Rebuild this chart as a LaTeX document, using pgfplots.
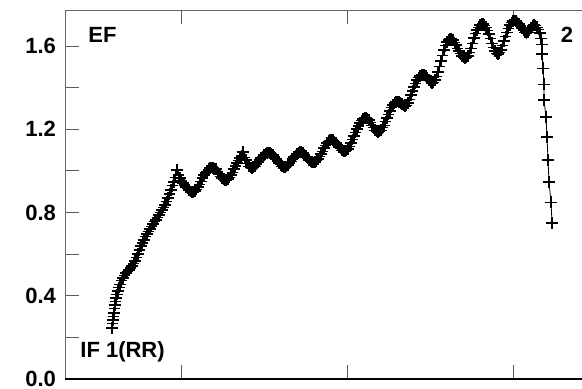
\documentclass[border=0pt]{standalone}
\usepackage{pgfplots}
\pgfplotsset{compat=1.18}
\usepackage{fontspec}
\setmainfont{Liberation Sans}
\begin{document}
\begin{tikzpicture}
\begin{axis}[
  at={(32.5pt,4.5pt)}, anchor=south west,
  scale only axis, width=267.5pt, height=184.5pt,
  xmin=65, xmax=600, ymin=0, ymax=1.7732,
  axis line style={black!60, line width=0.5pt},
  xtick={181,347,513}, xticklabels={},
  ytick={0,0.4,0.8,1.2,1.6},
  yticklabels={0.0,0.4,0.8,1.2,1.6},
  minor ytick={0.2,0.6,1.0,1.4},
  tick align=inside,
  major tick length=7pt, minor tick length=7pt,
  tick style={black!65, line width=0.5pt},
  xtick pos=both, ytick pos=left,
  yticklabel style={font=\fontsize{11}{13}\selectfont\bfseries, xshift=-1pt},
  /pgf/number format/assume math mode=true,
  clip=false,
]
\addplot[black, line width=0.4pt, mark=+, mark size=2.9pt, mark options={line width=0.6pt}] coordinates {
(112,0.245) (112.5,0.265) (113,0.284) (113.5,0.300) (114,0.317) (114.5,0.337) (115,0.356)
(115.5,0.372) (116,0.389) (117,0.406) (118,0.423) (119,0.440) (120,0.456) (121.5,0.472)
(123,0.485) (124.5,0.498) (126,0.509) (127.5,0.517) (129,0.524) (130.5,0.533) (132,0.543)
(133.5,0.554) (135,0.567) (136.5,0.583) (138,0.601) (139.5,0.620) (141,0.639) (142.5,0.654)
(144,0.668) (145.5,0.683) (147,0.697) (148.5,0.709) (150,0.721) (151.5,0.733) (153,0.745)
(154.5,0.755) (156,0.764) (157.5,0.776) (159,0.788) (160.5,0.800) (162,0.812) (163.5,0.824)
(165,0.836) (166.5,0.852) (168,0.870) (169.5,0.889) (171,0.908) (172.5,0.928) (174,0.947)
(175.5,0.970) (177,1.004) (178.5,0.980) (180,0.966) (181.5,0.953) (183,0.942) (184.5,0.932)
(186,0.923) (187.5,0.915) (189,0.908) (190.5,0.902) (192,0.899) (193.5,0.899) (195,0.903)
(196.5,0.911) (198,0.923) (199.5,0.936) (201,0.951) (202.5,0.966) (204,0.980) (205.5,0.990)
(207,0.999) (208.5,1.008) (210,1.014) (211.5,1.016) (213,1.014) (214.5,1.012) (216,1.009)
(217.5,0.998) (219,0.985) (220.5,0.975) (222,0.966) (223.5,0.959) (225,0.956) (226.5,0.957)
(228,0.961) (229.5,0.969) (231,0.980) (232.5,0.994) (234,1.009) (235.5,1.024) (237,1.038)
(238.5,1.050) (240,1.062) (241.5,1.072) (243,1.091) (244.5,1.066) (246,1.052) (247.5,1.036)
(249,1.023) (250.5,1.016) (252,1.014) (253.5,1.017) (255,1.023) (256.5,1.032) (258,1.043)
(259.5,1.053) (261,1.062) (262.5,1.070) (264,1.076) (265.5,1.082) (267,1.086) (268.5,1.088)
(270,1.086) (271.5,1.082) (273,1.076) (274.5,1.067) (276,1.057) (277.5,1.047) (279,1.038)
(280.5,1.029) (282,1.023) (283.5,1.019) (285,1.019) (286.5,1.022) (288,1.028) (289.5,1.037)
(291,1.047) (292.5,1.057) (294,1.067) (295.5,1.075) (297,1.081) (298.5,1.087) (300,1.091)
(301.5,1.090) (303,1.086) (304.5,1.079) (306,1.071) (307.5,1.061) (309,1.052) (310.5,1.046)
(312,1.043) (313.5,1.041) (315,1.043) (316.5,1.049) (318,1.057) (319.5,1.068) (321,1.081)
(322.5,1.095) (324,1.110) (325.5,1.123) (327,1.134) (328.5,1.143) (330,1.148) (331.5,1.150)
(333,1.148) (334.5,1.142) (336,1.134) (337.5,1.124) (339,1.115) (340.5,1.107) (342,1.100)
(343.5,1.097) (345,1.096) (346.5,1.099) (348,1.105) (349.5,1.118) (351,1.134) (352.5,1.151)
(354,1.168) (355.5,1.185) (357,1.201) (358.5,1.216) (360,1.230) (361.5,1.241) (363,1.249)
(364.5,1.253) (366,1.254) (367.5,1.251) (369,1.245) (370.5,1.233) (372,1.220) (373.5,1.207)
(375,1.196) (376.5,1.189) (378,1.187) (379.5,1.189) (381,1.196) (382.5,1.207) (384,1.220)
(385.5,1.236) (387,1.254) (388.5,1.271) (390,1.288) (391.5,1.304) (393,1.317) (394.5,1.326)
(396,1.331) (397.5,1.333) (399,1.331) (400.5,1.327) (402,1.321) (403.5,1.315) (405,1.312)
(406.5,1.316) (408,1.326) (409.5,1.344) (411,1.365) (412.5,1.384) (414,1.403) (415.5,1.421)
(417,1.437) (418.5,1.448) (420,1.456) (421.5,1.460) (423,1.461) (424.5,1.460) (426,1.456)
(427.5,1.447) (429,1.437) (430.5,1.428) (432,1.422) (433.5,1.426) (435,1.437) (436.5,1.454)
(438,1.475) (439.5,1.501) (441,1.528) (442.5,1.555) (444,1.581) (445.5,1.601) (447,1.619)
(448.5,1.629) (450,1.634) (451.5,1.634) (453,1.629) (454.5,1.618) (456,1.605) (457.5,1.590)
(459,1.576) (460.5,1.563) (462,1.552) (463.5,1.545) (465,1.542) (466.5,1.545) (468,1.552)
(469.5,1.569) (471,1.590) (472.5,1.614) (474,1.639) (475.5,1.659) (477,1.677) (478.5,1.691)
(480,1.701) (481.5,1.705) (483,1.706) (484.5,1.700) (486,1.691) (487.5,1.676) (489,1.658)
(490.5,1.636) (492,1.614) (493.5,1.593) (495,1.576) (496.5,1.565) (498,1.562) (499.5,1.568)
(501,1.581) (502.5,1.601) (504,1.624) (505.5,1.646) (507,1.667) (508.5,1.686) (510,1.701)
(511.5,1.713) (513,1.720) (514.5,1.722) (516,1.720) (517.5,1.714) (519,1.706) (520.5,1.697)
(522,1.687) (523.5,1.676) (525,1.667) (526.5,1.664) (528,1.667) (529.5,1.676) (531,1.687)
(532.5,1.696) (534,1.701) (535.5,1.698) (537,1.691) (538.5,1.679) (540,1.663)
(541,1.635) (542,1.606) (542,1.562) (543,1.494) (544,1.417)
(544,1.341) (546,1.259) (547,1.163) (548,1.052) (549,0.947) (551,0.850) (552,0.750)
};
\node[anchor=west, font=\fontsize{11}{13}\selectfont\bfseries, inner sep=0pt] at (axis cs:88,1.653) {EF};
\node[anchor=center, font=\fontsize{11}{13}\selectfont\bfseries, inner sep=0pt] at (axis cs:567,1.653) {2};
\node[anchor=west, font=\fontsize{11}{13}\selectfont\bfseries, inner sep=0pt] at (axis cs:80,0.13) {IF 1(RR)};
\draw[black, line width=0.6pt] (rel axis cs:0,0) -- (rel axis cs:1,0);
\end{axis}
\pgfresetboundingbox
\useasboundingbox (0,0) rectangle (291pt,194pt);
\end{tikzpicture}
\end{document}
